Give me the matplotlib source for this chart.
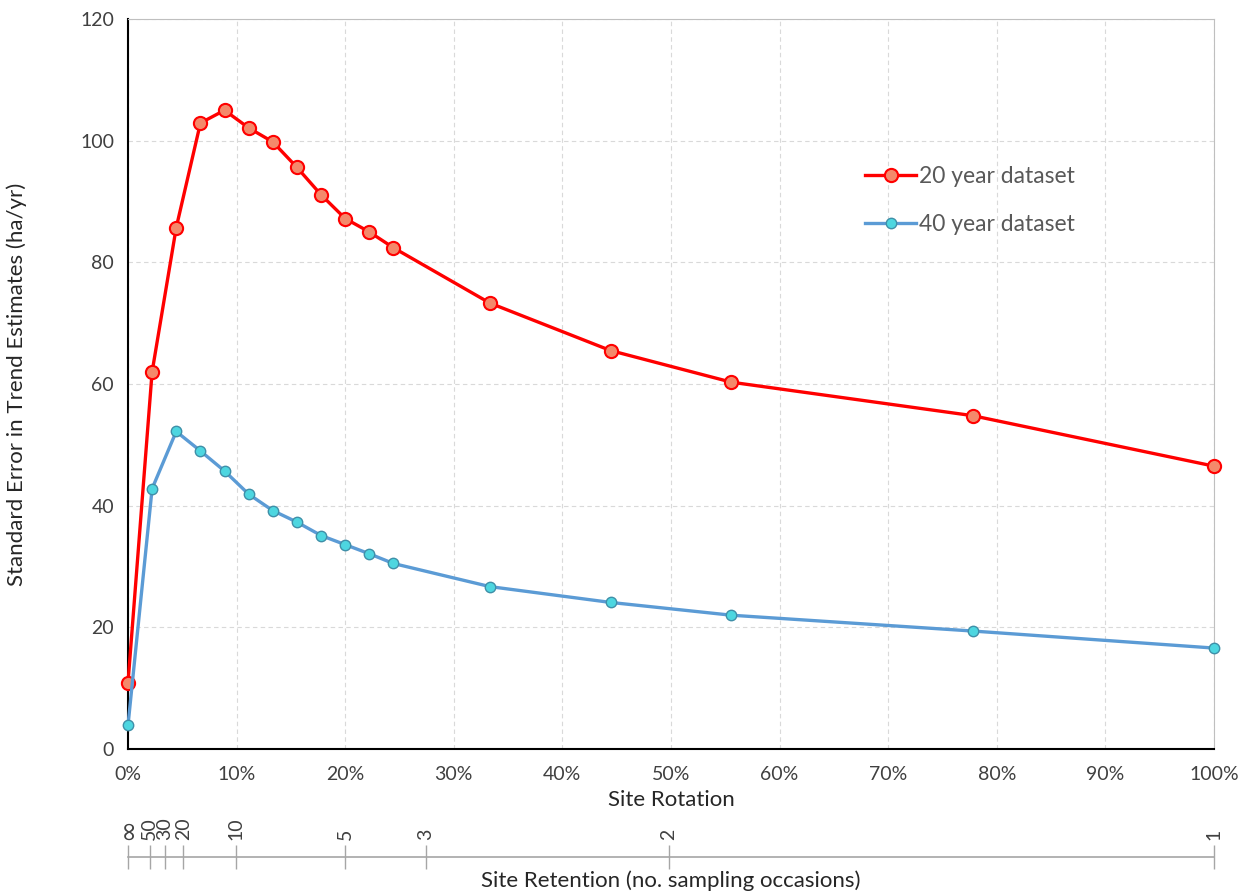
import numpy as np
import matplotlib.pyplot as plt
from matplotlib.ticker import FuncFormatter

# Site rotation (% of sites replaced each occasion)
rotation = [0, 2.22, 4.44, 6.67, 8.89, 11.11, 13.33, 15.56, 17.78, 20.0,
            22.22, 24.44, 33.33, 44.44, 55.56, 77.78, 100.0]

# Standard error in trend estimates (ha/yr)
se_20yr = [10.9, 62.0, 85.7, 102.9, 105.0, 102.1, 99.8, 95.6, 91.1, 87.2,
           85.0, 82.4, 73.3, 65.5, 60.3, 54.8, 46.5]
se_40yr = [3.9, 42.8, 52.2, 49.0, 45.7, 41.9, 39.2, 37.3, 35.1, 33.6,
           32.1, 30.5, 26.7, 24.1, 22.0, 19.4, 16.6]

# secondary axis: retention labels and where they sit on the rotation scale
retention_labels = ["\u221e", "50", "30", "20", "10", "5", "3", "2", "1"]
retention_pos = [0, 2.0, 3.4, 5.1, 9.9, 20.0, 27.4, 49.8, 100.0]

plt.rcParams['font.family'] = ['Lato', 'DejaVu Sans']
TXT = '#404040'

fig = plt.figure(figsize=(12.5, 8.96), dpi=100)
ax = fig.add_axes([0.1024, 0.164, 0.8688, 0.8148])

ax.plot(rotation, se_20yr, color='#ff0000', lw=2.4, marker='o', ms=9.5,
        mfc='#f4896b', mec='#ff0000', mew=1.5, label='20 year dataset',
        zorder=3, clip_on=False)
ax.plot(rotation, se_40yr, color='#5b9bd5', lw=2.4, marker='o', ms=7.5,
        mfc='#4dd6e0', mec='#3f8fa8', mew=1.0, label='40 year dataset',
        zorder=3, clip_on=False)

ax.set_xlim(0, 100)
ax.set_ylim(0, 120)
ax.set_xticks(np.arange(0, 101, 10))
ax.set_yticks(np.arange(0, 121, 20))
ax.xaxis.set_major_formatter(FuncFormatter(lambda v, p: f"{v:.0f}%"))
ax.grid(True, color='#d9d9d9', ls=(0, (4, 3)), lw=0.8)
ax.set_axisbelow(True)
ax.tick_params(length=0, labelsize=14, labelcolor=TXT, pad=10)
ax.tick_params(axis='x', pad=12)
for s in ['top', 'right']:
    ax.spines[s].set_color('#bfbfbf')
    ax.spines[s].set_linewidth(0.8)
for s in ['left', 'bottom']:
    ax.spines[s].set_color('black')
    ax.spines[s].set_linewidth(1.5)

ax.set_xlabel("Site Rotation", fontsize=16, color='#262626', labelpad=5)
ax.set_ylabel("Standard Error in Trend Estimates (ha/yr)", fontsize=16,
              color='#262626', labelpad=38)

leg = ax.legend(loc='upper left', bbox_to_anchor=(0.66, 0.827), frameon=False,
                fontsize=16.5, labelcolor='#595959', handlelength=2.2,
                handletextpad=0.15, labelspacing=1.2)

# secondary retention axis under the chart
ax2 = fig.add_axes([0.1024, 1 - 857 / 896, 0.8688, 0.0001])
ax2.set_xlim(0, 100)
ax2.set_yticks([])
for s in ['left', 'right', 'bottom']:
    ax2.spines[s].set_visible(False)
ax2.spines['top'].set_color('#a6a6a6')
ax2.spines['top'].set_linewidth(1.2)
ax2.xaxis.tick_top()
ax2.set_xticks(retention_pos)
ax2.set_xticklabels(retention_labels, rotation=90)
ax2.tick_params(axis='x', direction='inout', length=17, color='#a6a6a6',
                width=1.0, labelsize=14, labelcolor=TXT, pad=4)
inf_label = ax2.get_xticklabels()[0]
inf_label.set_family('DejaVu Sans')
inf_label.set_fontsize(19)
ax2.set_xlabel("Site Retention (no. sampling occasions)", fontsize=16,
               color='#262626', labelpad=10)
ax2.set_facecolor('none')

fig.savefig('out.png', dpi=100)
